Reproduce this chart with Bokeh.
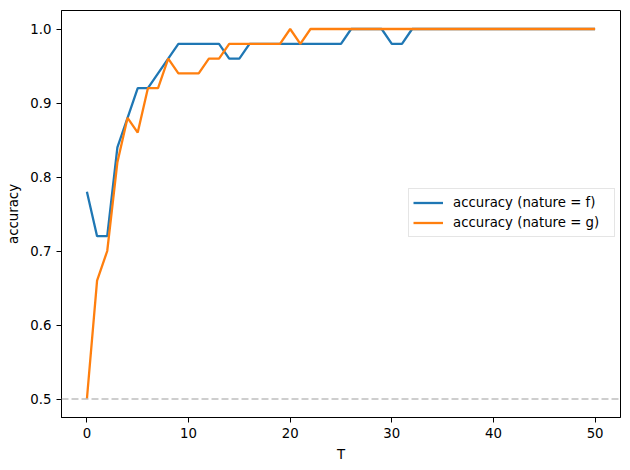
from bokeh.plotting import figure
from bokeh.models import Legend, LegendItem, FixedTicker, PrintfTickFormatter, Range1d, Span
from bokeh.embed import file_html
from bokeh.resources import INLINE

T = list(range(51))
acc_f = [0.78, 0.72, 0.72, 0.84, 0.88, 0.92, 0.92, 0.94, 0.96, 0.98,
         0.98, 0.98, 0.98, 0.98, 0.96, 0.96, 0.98, 0.98, 0.98, 0.98,
         0.98, 0.98, 0.98, 0.98, 0.98, 0.98, 1.0, 1.0, 1.0, 1.0,
         0.98, 0.98] + [1.0] * 19
acc_g = [0.50, 0.66, 0.70, 0.82, 0.88, 0.86, 0.92, 0.92, 0.96, 0.94,
         0.94, 0.94, 0.96, 0.96, 0.98, 0.98, 0.98, 0.98, 0.98, 0.98,
         1.0, 0.98] + [1.0] * 29
baseline = 0.5
x_ticks = [0, 10, 20, 30, 40, 50]
y_ticks = [0.5, 0.6, 0.7, 0.8, 0.9, 1.0]
labels = ["accuracy (nature = f)", "accuracy (nature = g)"]

FONT = "DejaVu Sans"
FS = "13.3px"

p = figure(width=630, height=470, output_backend="svg", toolbar_location=None,
           x_range=Range1d(-2.5, 52.5), y_range=Range1d(0.475, 1.025),
           min_border_left=61, min_border_right=10, min_border_top=10, min_border_bottom=53)
p.grid.visible = False
p.outline_line_color = "black"
p.outline_line_width = 1
p.outline_line_alpha = 1
p.background_fill_color = "white"
p.border_fill_color = "white"

for ax in (p.xaxis[0], p.yaxis[0]):
    ax.axis_line_color = "black"
    ax.axis_line_width = 1
    ax.major_tick_line_color = "black"
    ax.major_tick_out = 5
    ax.major_tick_in = 0
    ax.minor_tick_line_color = None
    ax.major_label_text_font = FONT
    ax.major_label_text_font_size = FS
    ax.major_label_text_color = "black"
    ax.axis_label_text_font = FONT
    ax.axis_label_text_font_size = FS
    ax.axis_label_text_font_style = "normal"
    ax.axis_label_text_color = "black"
    ax.major_label_standoff = 5
    ax.axis_label_standoff = 6

p.xaxis[0].ticker = FixedTicker(ticks=x_ticks)
p.yaxis[0].ticker = FixedTicker(ticks=y_ticks)
p.yaxis[0].formatter = PrintfTickFormatter(format="%.1f")
p.xaxis[0].axis_label = "T"
p.yaxis[0].axis_label = "accuracy"

span = Span(location=baseline, dimension="width", line_color="#bfbfbf",
            line_width=1.5, line_dash="7 3")
p.add_layout(span)

r1 = p.line(T, acc_f, line_color="#1f77b4", line_width=2.3)
r2 = p.line(T, acc_g, line_color="#ff7f0e", line_width=2.3)

legend = Legend(items=[LegendItem(label=labels[0], renderers=[r1]),
                       LegendItem(label=labels[1], renderers=[r2])],
                location=(347, 180))
legend.label_text_font = FONT
legend.label_text_font_size = FS
legend.label_text_color = "black"
legend.glyph_width = 30
legend.glyph_height = 19
legend.label_height = 19
legend.label_width = 157
legend.label_standoff = 10
legend.spacing = 1
legend.padding = 4
legend.margin = 0
legend.border_line_color = "#cccccc"
legend.border_line_width = 1
legend.background_fill_alpha = 0.8
p.add_layout(legend)

open("out.html", "w").write(file_html(p, INLINE))
